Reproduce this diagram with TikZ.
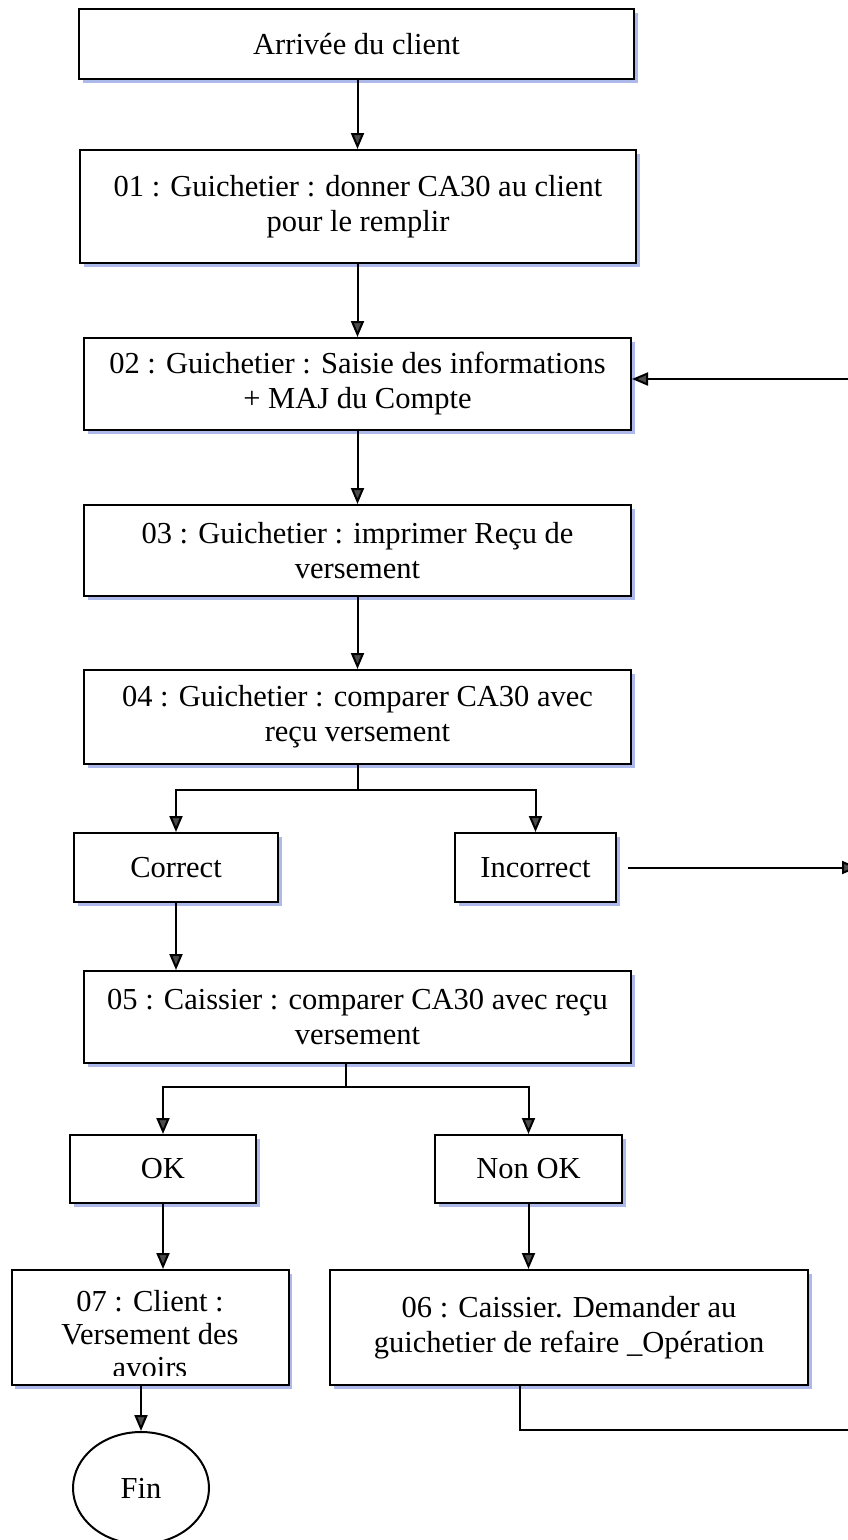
\documentclass[tikz,border=0pt]{standalone}
\usepackage{fontspec}
\setmainfont{Liberation Serif}
\usetikzlibrary{arrows.meta,shadows,shapes.geometric}
\definecolor{shadowblue}{RGB}{165,178,232}
\definecolor{tipgray}{RGB}{75,75,75}
\begin{document}
\begin{tikzpicture}[x=1pt,y=-1pt,
  every node/.style={font=\fontsize{30.5}{35}\selectfont},
  box/.style={draw=black,fill=white,align=center,inner sep=0pt,line width=2pt,
    drop shadow={shadow xshift=3.5pt,shadow yshift=-3.5pt,fill=shadowblue,opacity=0.9}},
  endnode/.style={draw=black,fill=white,ellipse,inner sep=0pt,line width=2pt},
  conn/.style={draw=black,line width=2pt},
  arr/.style={conn,-{Triangle[length=16pt,width=13pt,fill=tipgray]}}]

\clip (0,0) rectangle (848,1540);
\fill[white] (0,0) rectangle (848,1540);

% main column
\node[box,minimum width=555pt,minimum height=70pt] (start) at (356.5,44) {Arrivée du client};
\node[box,minimum width=556pt,minimum height=113pt] (s01) at (358,206.5)
  {01 : Guichetier : donner CA30 au client\\pour le remplir};
\node[box,minimum width=547pt,minimum height=92pt] (s02) at (357.5,384)
  {02 : Guichetier : Saisie des informations\\+ MAJ du Compte};
\node[box,minimum width=547pt,minimum height=91pt] (s03) at (357.5,550.5)
  {03 : Guichetier : imprimer Reçu de\\versement};
\node[box,minimum width=547pt,minimum height=94pt] (s04) at (357.5,717)
  {04 : Guichetier : comparer CA30 avec\\reçu versement};
\node[box,minimum width=204pt,minimum height=69pt] (ok1) at (176,867.5) {Correct};
\node[box,minimum width=161pt,minimum height=69pt] (ko1) at (535.5,867.5) {Incorrect};
\node[box,minimum width=547pt,minimum height=92pt] (s05) at (357.5,1017)
  {05 : Caissier : comparer CA30 avec reçu\\versement};
\node[box,minimum width=186pt,minimum height=68pt] (ok2) at (163,1169) {OK};
\node[box,minimum width=187pt,minimum height=68pt] (ko2) at (528.5,1169) {Non OK};
\node[box,minimum width=277pt,minimum height=115pt] (s07) at (150,1327.5) {};
\node[box,minimum width=478pt,minimum height=115pt] (s06) at (569,1327.5)
  {06 : Caissier. Demander au\\guichetier de refaire \_Opération};
\node[endnode,minimum width=136pt,minimum height=112pt] (fin) at (141,1488) {Fin};

% text of step 07, cut off by the inner margin of its box
\begin{scope}
  \clip ([yshift=11pt]s07.south west) rectangle (s07.north east);
  \node[anchor=north,align=center,inner sep=0pt,font=\fontsize{30.5}{33}\selectfont]
    (t07) at ([yshift=-21pt]s07.north) {07 : Client :\\Versement des\\avoirs};
\end{scope}

% spine of the main column
\coordinate (spine) at (357.5,0);
\draw[arr] (start.south -| spine) -- (s01.north -| spine);
\draw[arr] (s01.south -| spine) -- (s02.north -| spine);
\draw[arr] (s02.south -| spine) -- (s03.north -| spine);
\draw[arr] (s03.south -| spine) -- (s04.north -| spine);

% first check
\draw[conn] (s04.south) -- ++(0,25) coordinate (j1);
\draw[arr] (j1) -| (ok1.north);
\draw[arr] (j1) -| (ko1.north);
\draw[arr] (ok1.south) -- (ok1.south |- s05.north);

% second check
\coordinate (j2) at ([xshift=-12pt]s05.south);
\draw[conn] (j2) -- ++(0,23) coordinate (j2b);
\draw[arr] (j2b) -| (ok2.north);
\draw[arr] (j2b) -| (ko2.north);
\draw[arr] (ok2.south) -- (ok2.south |- s07.north);
\draw[arr] (ko2.south) -- (ko2.south |- s06.north);
\draw[arr] (s07.south -| fin) -- (fin.north);

% return paths along the right edge
\coordinate (e1) at (866,379);
\coordinate (e2) at (858,867.5);
\coordinate (e3) at (866,1430);
\draw[arr] (e1) -- (s02.east |- e1);
\draw[arr] ([xshift=11pt]ko1.east) -- (e2);
\coordinate (j3) at ([xshift=-49pt]s06.south);
\draw[conn] (j3) |- (e3);
\end{tikzpicture}
\end{document}
